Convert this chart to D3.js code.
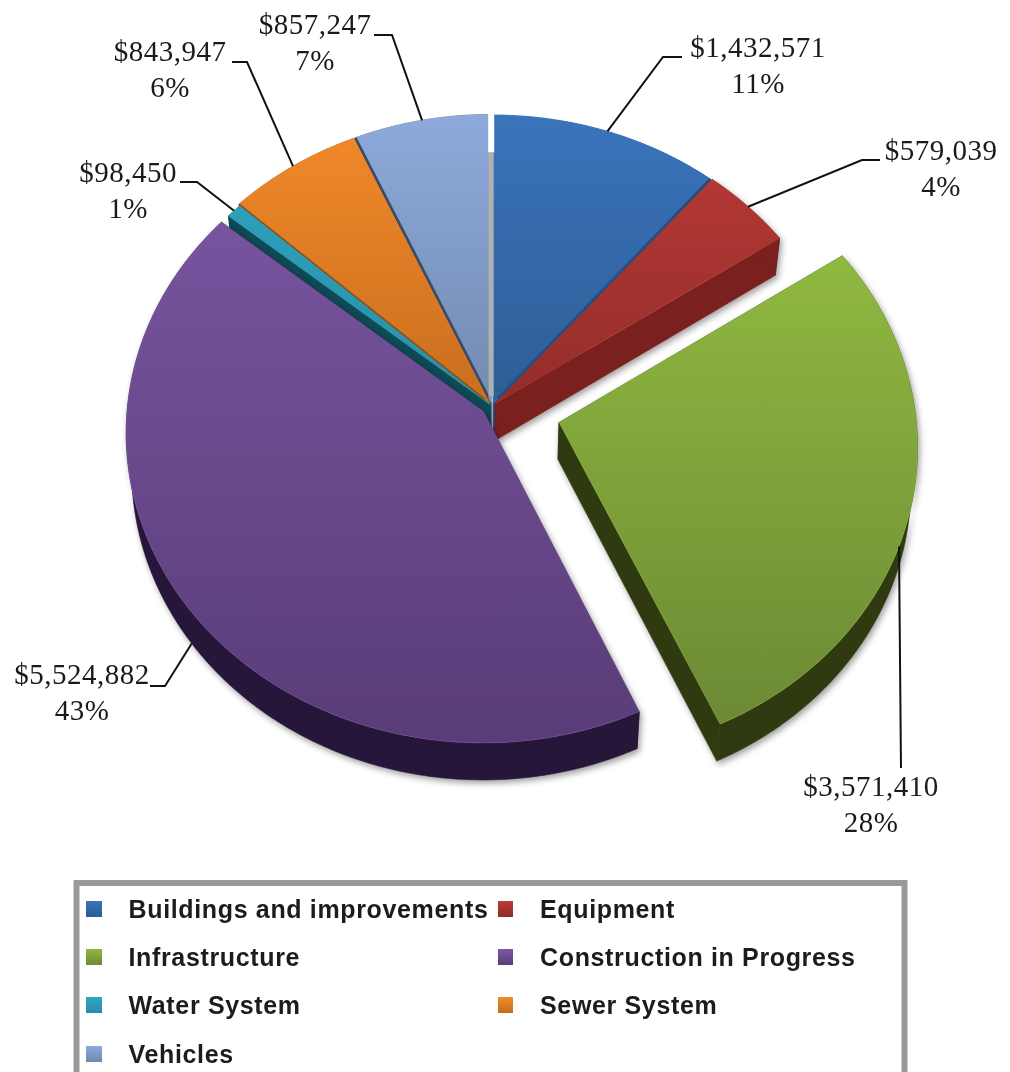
<!DOCTYPE html>
<html><head><meta charset="utf-8">
<style>html,body{margin:0;padding:0;background:#fff;overflow:hidden}svg{display:block;filter:blur(0.5px)}</style>
<script src="https://cdn.jsdelivr.net/npm/d3@7"></script>
</head><body><svg id="c" width="1010" height="1072"></svg>
<script>
const categories = ["Buildings and improvements","Equipment","Infrastructure","Construction in Progress","Water System","Sewer System","Vehicles"];
const amounts = [1432571,579039,3571410,5524882,98450,843947,857247];
const percents = ["11%","4%","28%","43%","1%","6%","7%"];
const amountLabels = ["$1,432,571","$579,039","$3,571,410","$5,524,882","$98,450","$843,947","$857,247"];

const explode = [0.01,0.012,0.195,0.03,0.006,0.012,0.012];
const topTop = ["#3a74bb","#bb3b37","#8fb840","#7d59a6","#2fa8c4","#f48a2a","#8eaadb"];
const topBot = ["#2d5b92","#8f2c29","#6c8a34","#5a3c78","#2b8ba2","#c46c1e","#6f88ad"];
const sides = ["#264f80","#7a201e","#2f3a11","#25163a","#0f4a57","#8a5016","#3c4b68"];
const drawOrder = [6,5,4,0,1,3,2];
const withShadow = [0,1,1,1,0,0,0];
const leaderFrac = [.5,.5,.57,.5,.5,.5,.5];
const leaderOnWall = [0,0,0,1,0,0,0];
const leaderBend = [[663,57,682,57],[862,160,880,160],[901,768,901,768],[165,686,150,686],[197,182,180,182],[247,62,232,62],[392,35,374,35]];
const labelAt = [[758,47],[941,150],[871,786],[82,674],[128,172],[170,51],[315,24]];

const cx=492, y0=406, A=356, B=308, p=0.068, depth=37, shrink=0.985;
const svg=d3.select("#c"), defs=svg.append("defs");
const proj=(u,v,bot)=>{
  const d=1-p*v; let X=A*u/d, Y=y0+B*v/d;
  if(bot){X*=shrink;Y+=depth;}
  return [cx+X,Y];
};
const arcs=d3.pie().sort(null).value(d=>d).startAngle(0).endAngle(2*Math.PI)(amounts);
const line=d3.line();
function sliceGeom(i){
  const a=arcs[i], mid=(a.startAngle+a.endAngle)/2, e=explode[i];
  const ou=Math.sin(mid)*e, ov=-Math.cos(mid)*e;
  const pt=(t,r,bot)=>proj(ou+Math.sin(t)*r,ov-Math.cos(t)*r,bot);
  const ts=d3.range(a.startAngle,a.endAngle,0.01).concat([a.endAngle]);
  return {a,ts,pt};
}
const pie=svg.append("g");
function seams(){
  const v=sliceGeom(6), b=sliceGeom(0), s=sliceGeom(5);
  const seam=(g,t,col,w)=>pie.append("path").attr("d",line([g.pt(t,0.02,false),g.pt(t,1,false)]))
    .attr("stroke",col).attr("stroke-width",w).attr("fill","none");
  seam(v,v.a.startAngle,sides[6],2.5);
  seam(b,b.a.endAngle,sides[0],2.5);
  seam(s,s.a.startAngle,sides[5],1.5);
  pie.append("path").attr("d",line([v.pt(v.a.endAngle,0.86,false),v.pt(v.a.endAngle,1.01,false)]))
    .attr("stroke","#fff").attr("stroke-width",6).attr("fill","none");
  pie.append("path").attr("d",line([v.pt(v.a.endAngle,0.02,false),v.pt(v.a.endAngle,0.86,false)]))
    .attr("stroke","#b0b0b0").attr("stroke-width",5).attr("fill","none");
}
drawOrder.forEach(i=>{
  const {a,ts,pt}=sliceGeom(i);
  const g=defs.append("linearGradient").attr("id","g"+i).attr("gradientUnits","userSpaceOnUse")
    .attr("x1",0).attr("x2",0).attr("y1",i==2?260:113).attr("y2",i==2?720:i==3?740:430);
  g.append("stop").attr("offset",0).attr("stop-color",topTop[i]);
  g.append("stop").attr("offset",1).attr("stop-color",topBot[i]);
  const grp=pie.append("g");
  const body=grp.append("g");
  if(withShadow[i]) body.style("filter","drop-shadow(2px 3px 3px rgba(0,0,0,.38))");
  const top=[pt(0,0,false)].concat(ts.map(t=>pt(t,1,false)));
  const wallOuter=ts.map(t=>pt(t,1,false)).concat(ts.slice().reverse().map(t=>pt(t,1,true)));
  const wallA=[pt(0,0,false),pt(a.startAngle,1,false),pt(a.startAngle,1,true),pt(0,0,true)];
  const wallB=[pt(0,0,false),pt(a.endAngle,1,false),pt(a.endAngle,1,true),pt(0,0,true)];
  [wallA,wallB,wallOuter].forEach(w=>body.append("path").attr("d",line(w)+"Z")
    .attr("fill",sides[i]).attr("stroke",sides[i]).attr("stroke-width",.6));
  grp.append("path").attr("d",line(top)+"Z").attr("fill",`url(#g${i})`)
    .attr("stroke",d3.color(topTop[i]).brighter(.4)).attr("stroke-opacity",.35).attr("stroke-width",1);
  if(i==1) seams();
});

const fontS="'Liberation Serif','Times New Roman',serif";
const labels=svg.append("g").attr("font-family",fontS).attr("font-size",29).attr("letter-spacing",.5).attr("fill","#1a1a1a").attr("text-anchor","middle");
categories.forEach((c,i)=>{
  const {a,pt}=sliceGeom(i);
  const t=a.startAngle+(a.endAngle-a.startAngle)*leaderFrac[i];
  const s=pt(t,1,!!leaderOnWall[i]);
  const b=leaderBend[i];
  labels.append("path").attr("d",line([s,[b[0],b[1]],[b[2],b[3]]]))
    .attr("fill","none").attr("stroke","#111").attr("stroke-width",2);
  labels.append("text").attr("x",labelAt[i][0]).attr("y",labelAt[i][1]).attr("dy","0.35em").text(amountLabels[i]);
  labels.append("text").attr("x",labelAt[i][0]).attr("y",labelAt[i][1]+36).attr("dy","0.35em").text(percents[i]);
});

const lg=svg.append("g");
lg.append("rect").attr("x",76.5).attr("y",883).attr("width",828).attr("height",230)
  .attr("fill","#fff").attr("stroke","#999").attr("stroke-width",6);
const rowsY=[909,957,1005,1054], colSw=[86,498], colTx=[128.5,540];
categories.forEach((c,i)=>{
  const col=i%2,row=Math.floor(i/2);
  const g=defs.append("linearGradient").attr("id","lg"+i).attr("x1",0).attr("x2",0).attr("y1",0).attr("y2",1);
  g.append("stop").attr("offset",0).attr("stop-color",topTop[i]);
  g.append("stop").attr("offset",1).attr("stop-color",topBot[i]);
  lg.append("rect").attr("x",colSw[col]).attr("y",rowsY[row]-8).attr("width",col?15:16).attr("height",16)
    .attr("fill",`url(#lg${i})`);
  lg.append("text").attr("x",colTx[col]).attr("y",rowsY[row]).attr("dy","0.35em")
    .attr("font-family","'Liberation Sans',Arial,sans-serif").attr("font-weight",700)
    .attr("font-size",25).attr("letter-spacing",.65).attr("fill","#1c1c1c").text(c);
});
</script></body></html>
